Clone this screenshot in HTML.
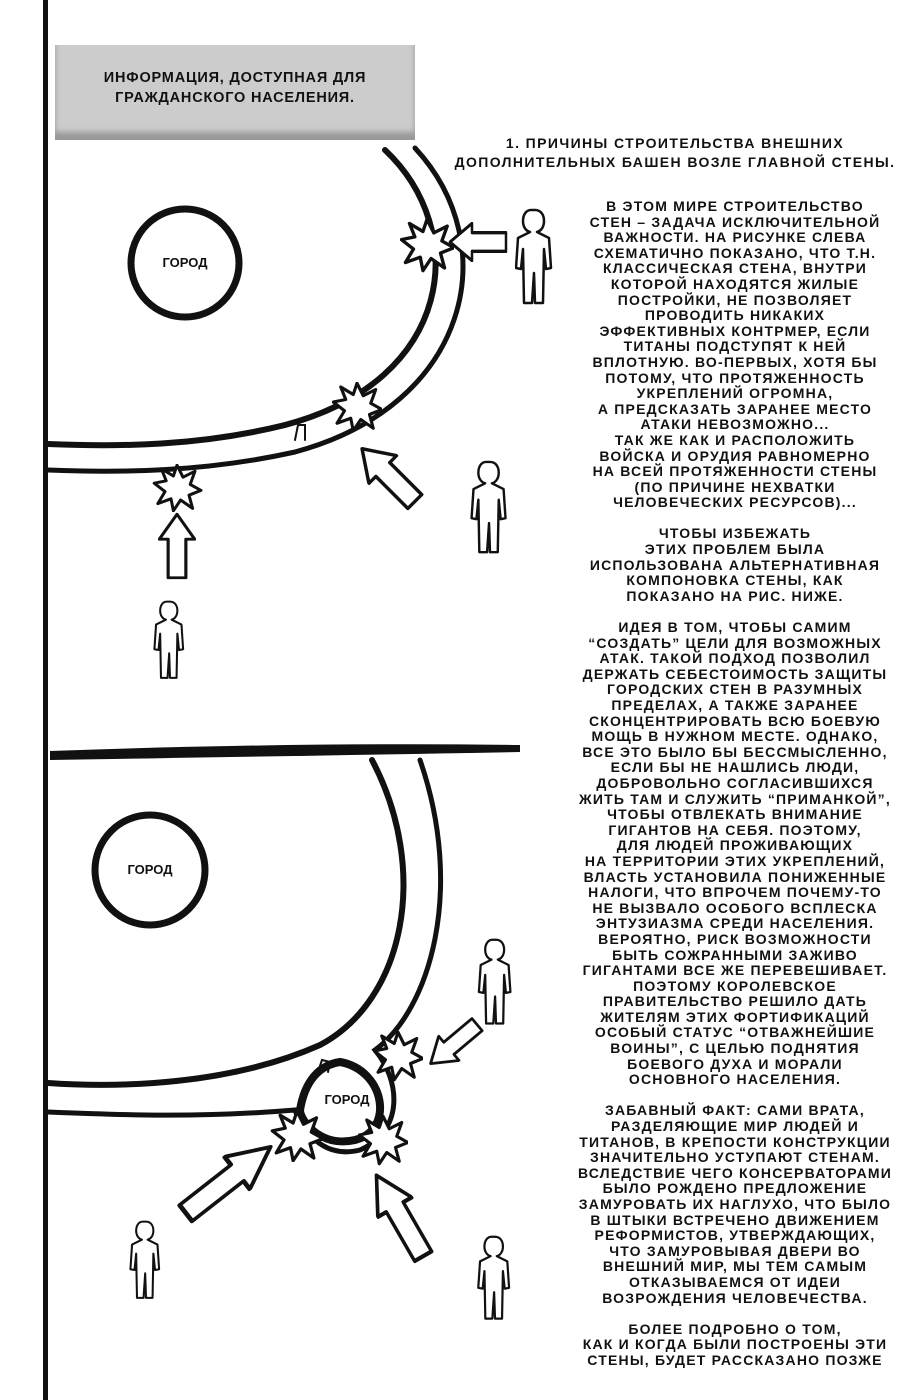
<!DOCTYPE html>
<html><head><meta charset="utf-8"><style>
html,body{margin:0;padding:0;background:#fff;}
body{width:921px;height:1400px;position:relative;overflow:hidden;font-family:"Liberation Sans",sans-serif;color:#111;}
.t{position:absolute;text-transform:uppercase;font-weight:bold;text-align:center;white-space:pre;}
#body{left:540px;width:390px;top:199px;font-size:14px;line-height:15.6px;letter-spacing:1.2px;}
#head{left:430px;width:490px;top:134px;font-size:14px;line-height:19px;letter-spacing:1.4px;}
#box{position:absolute;left:55px;top:45px;width:360px;height:95px;background:#ccc;box-shadow:inset 0 -8px 6px #999;}
#boxt{left:55px;width:360px;top:68px;font-size:14.5px;line-height:20px;letter-spacing:0.8px;}
</style></head><body>
<svg width="921" height="1400" style="position:absolute;left:0;top:0">
<defs>
<symbol id="p" viewBox="0 0 40 100"><path d="M20 2c6 0 9 5 9 11s-3 10-7 11l12 6 2 30-5 1-2-20-1 54-8 0-1-30-2 30-8 0-1-54-2 20-5-1 2-30 12-6c-4-1-7-5-7-11s3-11 8-11z" fill="#fff" stroke="#111" stroke-width="2.5" stroke-linejoin="round"/></symbol>
<symbol id="s" viewBox="-20 -20 40 40"><path d="M0-19 5-9 15-14 11-3 20 2 10 6 13 17 3 10-3 19-5 9-16 13-10 3-19-4-9-6-13-16-3-10z" fill="#fff" stroke="#111" stroke-width="2.5" stroke-linejoin="round"/></symbol>
<symbol id="a" viewBox="0 0 60 30" preserveAspectRatio="none"><path d="M2 15 24 1 24 8 58 8 58 22 24 22 24 29z" fill="#fff" stroke="#111" stroke-width="2.5" stroke-linejoin="round"/></symbol>
</defs>
<rect x="43" y="0" width="5" height="1400" fill="#111"/>
<path d="M50 751 Q 300 742 520 745 L520 752 Q 300 756 50 760z" fill="#111"/>
<g fill="none" stroke="#111" stroke-linecap="round">
<path d="M385 150 C 470 230, 455 380, 285 425 C 200 446, 120 447, 48 444" stroke-width="6"/>
<path d="M415 148 C 505 245, 470 405, 295 452 C 205 472, 120 473, 48 470" stroke-width="5"/>
<circle cx="185" cy="263" r="54" stroke-width="7"/>
<path d="M372 760 C 430 870, 405 1000, 320 1045 C 230 1085, 120 1088, 48 1083" stroke-width="6"/>
<path d="M420 760 C 465 890, 430 1010, 375 1050 C 400 1080, 405 1130, 360 1150 C 320 1160, 300 1125, 295 1110 C 200 1118, 120 1115, 48 1112" stroke-width="5"/>
<path d="M340 1062 C 385 1070, 395 1130, 355 1140 C 320 1148, 300 1120, 300 1110 C 305 1080, 320 1065, 340 1062z" stroke-width="8"/>
<circle cx="150" cy="870" r="55" stroke-width="7"/>
<path d="M295 440 L298 425 305 425 305 440" stroke-width="2"/>
<path d="M318 1072 L322 1060 330 1062 328 1072" stroke-width="2"/>
</g>
<use href="#s" x="400" y="216" width="54" height="58"/>
<use href="#s" x="332" y="382" width="50" height="50"/>
<use href="#s" x="150" y="464" width="54" height="48"/>
<use href="#s" x="373" y="1030" width="50" height="52"/>
<use href="#s" x="270" y="1110" width="54" height="52"/>
<use href="#s" x="358" y="1114" width="50" height="52"/>
<use href="#a" x="448" y="222" width="60" height="40"/>
<use href="#a" transform="translate(375,432) rotate(45)" width="80" height="42"/>
<use href="#a" transform="translate(177,512) rotate(90) translate(0,-19)" width="68" height="38"/>
<use href="#a" transform="translate(418,1052) rotate(-40)" width="65" height="34"/>
<use href="#a" transform="translate(287,1162) rotate(142)" width="115" height="44"/>
<use href="#a" transform="translate(393,1162) rotate(60)" width="100" height="42"/>
<use href="#p" x="515" y="208" width="40" height="100"/>
<use href="#p" x="470" y="460" width="40" height="97"/>
<use href="#p" x="153" y="600" width="34" height="82"/>
<use href="#p" x="477" y="938" width="38" height="90"/>
<use href="#p" x="127" y="1220" width="38" height="82"/>
<use href="#p" x="475" y="1235" width="40" height="88"/>
</svg>
<div id="box"></div>
<div class="t" id="boxt">ИНФОРМАЦИЯ, ДОСТУПНАЯ ДЛЯ
ГРАЖДАНСКОГО НАСЕЛЕНИЯ.</div>
<div class="t" style="left:125px;width:120px;top:255px;font-size:13px;">ГОРОД</div>
<div class="t" style="left:90px;width:120px;top:862px;font-size:13px;">ГОРОД</div>
<div class="t" style="left:287px;width:120px;top:1092px;font-size:13px;">ГОРОД</div>
<div class="t" id="head">1. ПРИЧИНЫ СТРОИТЕЛЬСТВА ВНЕШНИХ
ДОПОЛНИТЕЛЬНЫХ БАШЕН ВОЗЛЕ ГЛАВНОЙ СТЕНЫ.</div>
<div class="t" id="body">В ЭТОМ МИРЕ СТРОИТЕЛЬСТВО
СТЕН – ЗАДАЧА ИСКЛЮЧИТЕЛЬНОЙ
ВАЖНОСТИ. НА РИСУНКЕ СЛЕВА
СХЕМАТИЧНО ПОКАЗАНО, ЧТО Т.Н.
КЛАССИЧЕСКАЯ СТЕНА, ВНУТРИ
КОТОРОЙ НАХОДЯТСЯ ЖИЛЫЕ
ПОСТРОЙКИ, НЕ ПОЗВОЛЯЕТ
ПРОВОДИТЬ НИКАКИХ
ЭФФЕКТИВНЫХ КОНТРМЕР, ЕСЛИ
ТИТАНЫ ПОДСТУПЯТ К НЕЙ
ВПЛОТНУЮ. ВО-ПЕРВЫХ, ХОТЯ БЫ
ПОТОМУ, ЧТО ПРОТЯЖЕННОСТЬ
УКРЕПЛЕНИЙ ОГРОМНА,
А ПРЕДСКАЗАТЬ ЗАРАНЕЕ МЕСТО
АТАКИ НЕВОЗМОЖНО...
ТАК ЖЕ КАК И РАСПОЛОЖИТЬ
ВОЙСКА И ОРУДИЯ РАВНОМЕРНО
НА ВСЕЙ ПРОТЯЖЕННОСТИ СТЕНЫ
(ПО ПРИЧИНЕ НЕХВАТКИ
ЧЕЛОВЕЧЕСКИХ РЕСУРСОВ)...

ЧТОБЫ ИЗБЕЖАТЬ
ЭТИХ ПРОБЛЕМ БЫЛА
ИСПОЛЬЗОВАНА АЛЬТЕРНАТИВНАЯ
КОМПОНОВКА СТЕНЫ, КАК
ПОКАЗАНО НА РИС. НИЖЕ.

ИДЕЯ В ТОМ, ЧТОБЫ САМИМ
“СОЗДАТЬ” ЦЕЛИ ДЛЯ ВОЗМОЖНЫХ
АТАК. ТАКОЙ ПОДХОД ПОЗВОЛИЛ
ДЕРЖАТЬ СЕБЕСТОИМОСТЬ ЗАЩИТЫ
ГОРОДСКИХ СТЕН В РАЗУМНЫХ
ПРЕДЕЛАХ, А ТАКЖЕ ЗАРАНЕЕ
СКОНЦЕНТРИРОВАТЬ ВСЮ БОЕВУЮ
МОЩЬ В НУЖНОМ МЕСТЕ. ОДНАКО,
ВСЕ ЭТО БЫЛО БЫ БЕССМЫСЛЕННО,
ЕСЛИ БЫ НЕ НАШЛИСЬ ЛЮДИ,
ДОБРОВОЛЬНО СОГЛАСИВШИХСЯ
ЖИТЬ ТАМ И СЛУЖИТЬ “ПРИМАНКОЙ”,
ЧТОБЫ ОТВЛЕКАТЬ ВНИМАНИЕ
ГИГАНТОВ НА СЕБЯ. ПОЭТОМУ,
ДЛЯ ЛЮДЕЙ ПРОЖИВАЮЩИХ
НА ТЕРРИТОРИИ ЭТИХ УКРЕПЛЕНИЙ,
ВЛАСТЬ УСТАНОВИЛА ПОНИЖЕННЫЕ
НАЛОГИ, ЧТО ВПРОЧЕМ ПОЧЕМУ-ТО
НЕ ВЫЗВАЛО ОСОБОГО ВСПЛЕСКА
ЭНТУЗИАЗМА СРЕДИ НАСЕЛЕНИЯ.
ВЕРОЯТНО, РИСК ВОЗМОЖНОСТИ
БЫТЬ СОЖРАННЫМИ ЗАЖИВО
ГИГАНТАМИ ВСЕ ЖЕ ПЕРЕВЕШИВАЕТ.
ПОЭТОМУ КОРОЛЕВСКОЕ
ПРАВИТЕЛЬСТВО РЕШИЛО ДАТЬ
ЖИТЕЛЯМ ЭТИХ ФОРТИФИКАЦИЙ
ОСОБЫЙ СТАТУС “ОТВАЖНЕЙШИЕ
ВОИНЫ”, С ЦЕЛЬЮ ПОДНЯТИЯ
БОЕВОГО ДУХА И МОРАЛИ
ОСНОВНОГО НАСЕЛЕНИЯ.

ЗАБАВНЫЙ ФАКТ: САМИ ВРАТА,
РАЗДЕЛЯЮЩИЕ МИР ЛЮДЕЙ И
ТИТАНОВ, В КРЕПОСТИ КОНСТРУКЦИИ
ЗНАЧИТЕЛЬНО УСТУПАЮТ СТЕНАМ.
ВСЛЕДСТВИЕ ЧЕГО КОНСЕРВАТОРАМИ
БЫЛО РОЖДЕНО ПРЕДЛОЖЕНИЕ
ЗАМУРОВАТЬ ИХ НАГЛУХО, ЧТО БЫЛО
В ШТЫКИ ВСТРЕЧЕНО ДВИЖЕНИЕМ
РЕФОРМИСТОВ, УТВЕРЖДАЮЩИХ,
ЧТО ЗАМУРОВЫВАЯ ДВЕРИ ВО
ВНЕШНИЙ МИР, МЫ ТЕМ САМЫМ
ОТКАЗЫВАЕМСЯ ОТ ИДЕИ
ВОЗРОЖДЕНИЯ ЧЕЛОВЕЧЕСТВА.

БОЛЕЕ ПОДРОБНО О ТОМ,
КАК И КОГДА БЫЛИ ПОСТРОЕНЫ ЭТИ
СТЕНЫ, БУДЕТ РАССКАЗАНО ПОЗЖЕ</div>
</body></html>
